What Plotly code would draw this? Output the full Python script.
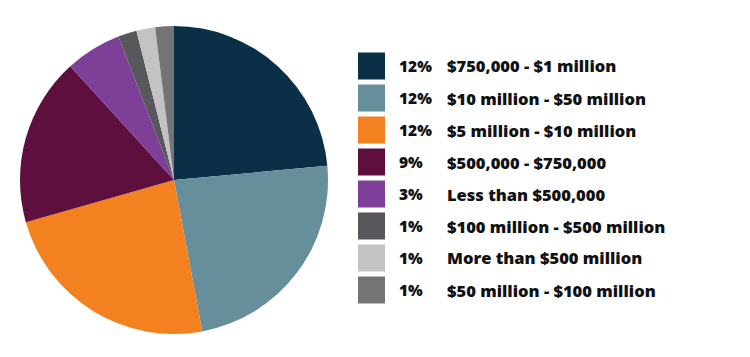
import plotly.graph_objects as go

labels = ["$750,000 - $1 million", "$10 million - $50 million", "$5 million - $10 million",
          "$500,000 - $750,000", "Less than $500,000", "$100 million - $500 million",
          "More than $500 million", "$50 million - $100 million"]
values = [12, 12, 12, 9, 3, 1, 1, 1]
pct_text = ["12%", "12%", "12%", "9%", "3%", "1%", "1%", "1%"]
colors = ["#0c2f48", "#668e9b", "#f48120", "#5e0f3e", "#7e3f98", "#58585c", "#c3c3c3", "#747474"]

W, H = 750, 357
OFF = 8  # page body margin


def px(x):
    return (x - OFF) / W


def py(y):
    return 1 - (y - OFF) / H


fig = go.Figure()
fig.add_trace(go.Pie(
    labels=labels, values=values, sort=False, direction="clockwise", rotation=0,
    marker=dict(colors=colors, line=dict(width=0)),
    textinfo="none", showlegend=False,
    domain=dict(x=[px(20), px(328)], y=[py(334), py(26)]),
))

row0, step = 66, 32
font_pct = dict(family="Open Sans", size=15.5, color="#111111", weight=800)
font_lab = dict(family="Open Sans", size=16.5, color="#111111", weight=800)
for i, (lab, p, c) in enumerate(zip(labels, pct_text, colors)):
    yc = row0 + i * step
    fig.add_shape(type="rect", xref="paper", yref="paper",
                  x0=px(358), x1=px(385), y0=py(yc + 13.5), y1=py(yc - 13.5),
                  fillcolor=c, line=dict(width=0))
    fig.add_annotation(x=px(397), y=py(yc), xref="paper", yref="paper", xanchor="left",
                       yanchor="middle", text=p, showarrow=False, font=font_pct)
    fig.add_annotation(x=px(445), y=py(yc), xref="paper", yref="paper", xanchor="left",
                       yanchor="middle", text=lab, showarrow=False, font=font_lab)

fig.update_layout(width=W, height=H, margin=dict(l=0, r=0, t=0, b=0),
                  paper_bgcolor="white", plot_bgcolor="white")
fig.write_html("out.html")
